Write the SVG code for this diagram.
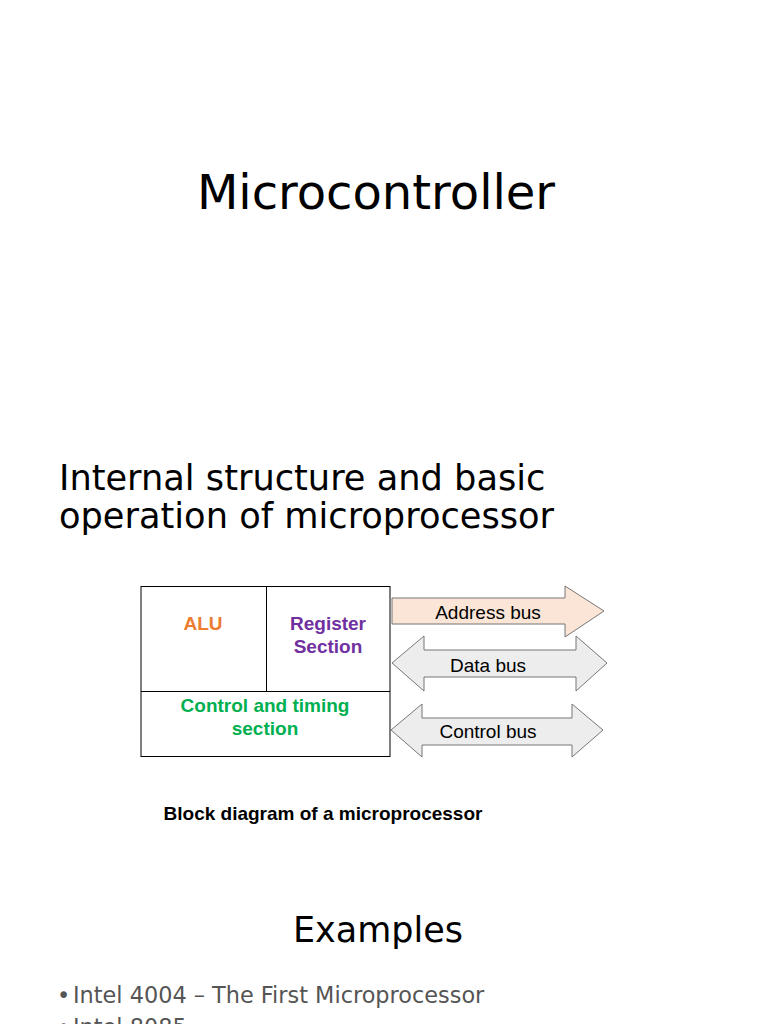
<svg xmlns="http://www.w3.org/2000/svg" width="768" height="1024" viewBox="0 0 768 1024">
<style>
.h{font-family:"DejaVu Sans",sans-serif;fill:#000}
.g{font-family:"DejaVu Sans",sans-serif;font-size:22.4px;fill:#555}
.b{font-family:"Liberation Sans",Arial,sans-serif;font-weight:bold;font-size:19px;text-anchor:middle}
.l{font-family:"Liberation Sans",Arial,sans-serif;font-size:19px;text-anchor:middle;fill:#000}
.box{fill:#fff;stroke:#000;stroke-width:1}
.arr{stroke:#777;stroke-width:1}
</style>
<rect width="768" height="1024" fill="#fff"/>
<text class="h" x="376" y="209" font-size="48" text-anchor="middle">Microcontroller</text>
<text class="h" x="59" y="490" font-size="35.2">Internal structure and basic</text>
<text class="h" x="59" y="528" font-size="35.2">operation of microprocessor</text>
<g id="block">
<rect class="box" x="141" y="586.5" width="249" height="170"/>
<line x1="266.5" y1="586.5" x2="266.5" y2="691.5" stroke="#000"/>
<line x1="141" y1="691.5" x2="390" y2="691.5" stroke="#000"/>
</g>
<g id="alu"><text class="b" x="203" y="630" fill="#ed7d31">ALU</text></g>
<g id="register"><text class="b" x="328" y="630" fill="#7030a0">Register</text><text class="b" x="328" y="653" fill="#7030a0">Section</text></g>
<g id="control"><text class="b" x="265" y="712" fill="#00b050">Control and timing</text><text class="b" x="265" y="735" fill="#00b050">section</text></g>
<g id="connectors">
<g id="address-bus">
<polygon class="arr" fill="#fbe5d6" points="392,598 565,598 565,586 604,611 565,637 565,624 392,624"/>
<text class="l" x="488" y="619">Address bus</text>
</g>
<g id="data-bus">
<polygon class="arr" fill="#ededed" points="392,663 424,636 424,650 576,650 576,636 607,663 576,691 576,677 424,677 424,691"/>
<text class="l" x="488" y="672">Data bus</text>
</g>
<g id="control-bus">
<polygon class="arr" fill="#ededed" points="391,730 422,704 422,718 572,718 572,704 603,730 572,757 572,745 422,745 422,757"/>
<text class="l" x="488" y="738">Control bus</text>
</g>
</g>
<text class="b" x="323" y="820" fill="#000">Block diagram of a microprocessor</text>
<text class="h" x="378" y="942" font-size="35" text-anchor="middle">Examples</text>
<text class="g" x="57" y="1003">•</text>
<text class="g" x="73" y="1003">Intel 4004 – The First Microprocessor</text>
<text class="g" x="57" y="1035">•</text>
<text class="g" x="73" y="1035">Intel 8085</text>
</svg>
